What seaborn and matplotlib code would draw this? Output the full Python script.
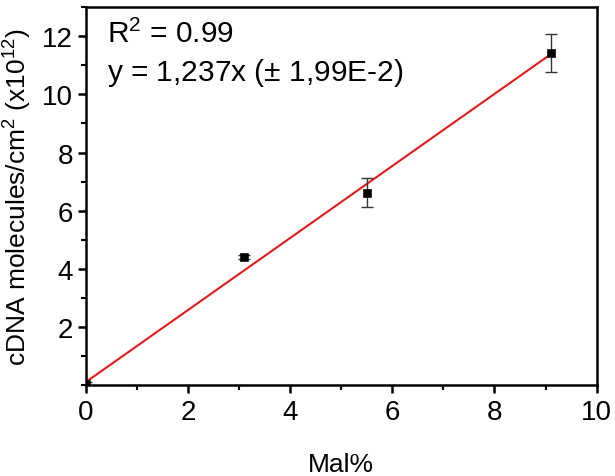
import numpy as np
import pandas as pd
import matplotlib
matplotlib.use('Agg')
import matplotlib.pyplot as plt
import seaborn as sns
from matplotlib.ticker import MultipleLocator

# DATA
mal_pct = [0.0, 3.1, 5.5, 9.1]
cdna = [0.05, 4.4, 6.62, 11.42]
cdna_err = [0.05, 0.07, 0.5, 0.65]
slope = 1.237
intercept = 0.12

df = pd.DataFrame({'Mal%': mal_pct, 'cDNA': cdna, 'err': cdna_err})

sns.set_style('ticks')
plt.rcParams['font.family'] = ['Liberation Sans', 'DejaVu Sans']
plt.rcParams['mathtext.fontset'] = 'custom'
plt.rcParams['mathtext.rm'] = 'Liberation Sans'
plt.rcParams['mathtext.it'] = 'Liberation Sans:italic'
plt.rcParams['text.color'] = 'black'
plt.rcParams['axes.labelcolor'] = 'black'

fig, ax = plt.subplots(figsize=(6.15, 4.77), dpi=100)

# fit line
x_fit = np.array([df['Mal%'].min(), df['Mal%'].max()])
sns.lineplot(x=x_fit, y=slope * x_fit + intercept, color='#e31a1c', linewidth=1.5, ax=ax, zorder=2)

ax.errorbar(df['Mal%'], df['cDNA'], yerr=df['err'], fmt='none', ecolor='#333333',
            elinewidth=1, capsize=4, capthick=1, zorder=3)
sns.scatterplot(data=df, x='Mal%', y='cDNA', marker='s', color='black', s=30,
                edgecolor='black', ax=ax, zorder=4)

ax.set_xlim(0, 10)
ax.set_ylim(0, 13)
ax.xaxis.set_major_locator(MultipleLocator(2))
ax.xaxis.set_minor_locator(MultipleLocator(1))
ax.yaxis.set_major_locator(MultipleLocator(2))
ax.yaxis.set_minor_locator(MultipleLocator(1))
ax.set_yticks([2, 4, 6, 8, 10, 12])

for s in ax.spines.values():
    s.set_linewidth(1.8)
    s.set_color('black')
ax.tick_params(which='major', direction='out', length=6, width=1.8, labelsize=20, colors='black')
ax.tick_params(which='minor', direction='out', length=3.5, width=1.5, colors='black')

ax.set_xlabel('Mal%', fontsize=19, labelpad=20)
ax.set_ylabel('cDNA molecules/cm$^2$ (x10$^{12}$)', fontsize=19, labelpad=6)

ax.text(0.04, 0.968, 'R$^2$ = 0.99', transform=ax.transAxes, fontsize=21.5, va='top')
ax.text(0.04, 0.87, 'y = 1,237x ($\\pm$ 1,99E-2)', transform=ax.transAxes, fontsize=21.5, va='top')

plt.subplots_adjust(left=0.14, right=0.97, bottom=0.19, top=0.983)
plt.savefig('out.png', dpi=100)
